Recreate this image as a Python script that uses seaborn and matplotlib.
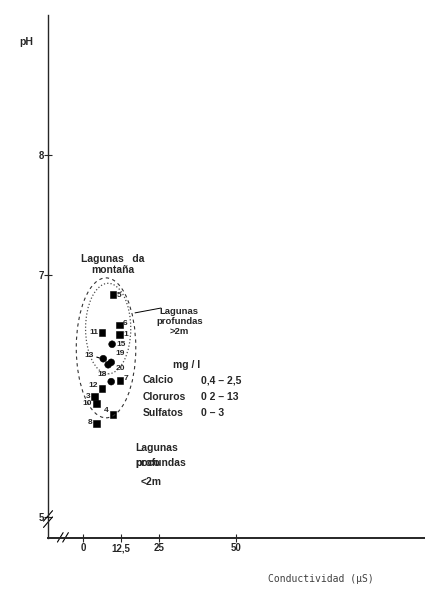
import pandas as pd
import matplotlib.pyplot as plt
import seaborn as sns
from matplotlib.patches import Ellipse

# Lagunas (numero, conductividad uS, pH, simbolo)
lagunas = ["5", "6", "1", "11", "15", "13", "19", "20", "18", "7", "12", "3", "10", "4", "8"]
conductividad = [9.8, 11.8, 11.8, 6.2, 9.5, 6.6, 9.2, 8.2, 9.2, 12.1, 6.2, 3.6, 4.3, 9.8, 4.3]
ph = [6.84, 6.59, 6.51, 6.53, 6.43, 6.31, 6.28, 6.26, 6.12, 6.13, 6.06, 6.00, 5.94, 5.85, 5.77]
simbolo = ["cuadrado", "cuadrado", "cuadrado", "cuadrado", "circulo", "circulo", "circulo",
           "circulo", "circulo", "cuadrado", "cuadrado", "cuadrado", "cuadrado", "cuadrado", "cuadrado"]
# lado de la etiqueta y pequeno desplazamiento vertical
lado = ["r", "r", "r", "l", "r", "l", "r", "r", "l", "r", "l", "l", "l", "l", "l"]
desp = [-0.01, 0.01, 0.0, 0.0, 0.0, 0.03, 0.07, -0.03, 0.06, 0.02, 0.03, 0.0, 0.0, 0.03, 0.01]

x_ticks = [0, 12.5, 25, 50]
x_labels = ["0", "12,5", "25", "50"]
y_ticks = [5, 7, 8]

iones = ["Calcio", "Cloruros", "Sulfatos"]
rangos = ["0,4 – 2,5", "0 2 – 13", "0 – 3"]

df = pd.DataFrame({"lag": lagunas, "cond": conductividad, "ph": ph, "sim": simbolo,
                   "lado": lado, "desp": desp})

sns.set_style("ticks")
plt.rcParams["font.family"] = ["Liberation Sans", "DejaVu Sans"]
plt.rcParams["font.weight"] = "bold"

fig = plt.figure(figsize=(4.25, 5.95), dpi=100)
ax = fig.add_axes([0.113, 0.096, 0.887, 0.879])

sns.scatterplot(data=df, x="cond", y="ph", style="sim",
                markers={"cuadrado": "s", "circulo": "o"},
                color="black", s=24, edgecolor="black", legend=False, ax=ax)

for _, r in df.iterrows():
    dx = 1.3 if r["lado"] == "r" else -1.3
    if r["lag"] == "13":
        dx = -3.0
    if r["lag"] == "20":
        dx = 2.6
    ax.text(r["cond"] + dx, r["ph"] + r["desp"], r["lag"], fontsize=6,
            ha="left" if r["lado"] == "r" else "right", va="center")
# flecha de la laguna 13
ax.annotate("", xy=(6.2, 6.31), xytext=(3.6, 6.33),
            arrowprops=dict(arrowstyle="-", lw=0.8, color="black"))

# zonas
ax.add_patch(Ellipse((8.2, 6.56), 14.8, 0.75, fill=False, ls=":", lw=0.9, color="0.3"))
ax.add_patch(Ellipse((7.5, 6.40), 19.5, 1.16, fill=False, ls=(0, (3, 3)), lw=0.8, color="0.2"))

ax.set_xlim(-11.5, 112)
ax.set_ylim(4.825, 9.16)
ax.set_xticks(x_ticks)
ax.set_xticklabels(x_labels, fontsize=7)
ax.set_yticks(y_ticks)
ax.set_yticklabels([str(v) for v in y_ticks], fontsize=7)
ax.tick_params(axis="both", direction="inout", length=6, width=0.8, pad=1)
ax.tick_params(axis="y", pad=0)
sns.despine(ax=ax)
ax.spines["left"].set_linewidth(1.0)
ax.spines["bottom"].set_linewidth(1.4)
ax.set_xlabel("")
ax.set_ylabel("")

# cortes de eje
for dy in (0.0, 0.012):
    ax.plot([-0.012, 0.012], [0.02 + dy, 0.04 + dy], transform=ax.transAxes,
            color="black", lw=0.8, clip_on=False)
for dxx in (0.0, 0.014):
    ax.plot([0.025 + dxx, 0.04 + dxx], [-0.008, 0.01], transform=ax.transAxes,
            color="black", lw=0.8, clip_on=False)

fig.text(0.045, 0.925, "pH", fontsize=7.5, weight="bold")
ax.text(9.8, 7.0, "Lagunas   da\nmontaña", fontsize=7.5, ha="center", va="bottom",
        linespacing=1.15)
ax.text(31.5, 6.62, "Lagunas\nprofundas\n>2m", fontsize=6.8, ha="center", va="center",
        linespacing=1.1)
ax.plot([17.0, 25.5], [6.69, 6.73], color="black", lw=0.7)

ax.text(29.5, 6.22, "mg / l", fontsize=7.5, ha="left", va="bottom")
for i, (ion, rg) in enumerate(zip(iones, rangos)):
    yy = 6.13 - i * 0.135
    ax.text(19.5, yy, ion, fontsize=7.5, ha="left", va="center")
    ax.text(38.5, yy, rg, fontsize=7.5, ha="left", va="center")

ax.text(17.0, 5.57, "Lagunas", fontsize=7.5, ha="left", va="center")
ax.text(17.0, 5.445, "profundas", fontsize=7.5, ha="left", va="center")
ax.text(17.0, 5.445, "poco", fontsize=7.5, ha="left", va="center")
ax.text(19.0, 5.29, "<2m", fontsize=7.5, ha="left", va="center")

fig.text(0.63, 0.022, "Conductividad (µS)", fontsize=7, family="DejaVu Sans Mono",
         weight="normal", color="0.25")

fig.savefig("out.png", dpi=100)
